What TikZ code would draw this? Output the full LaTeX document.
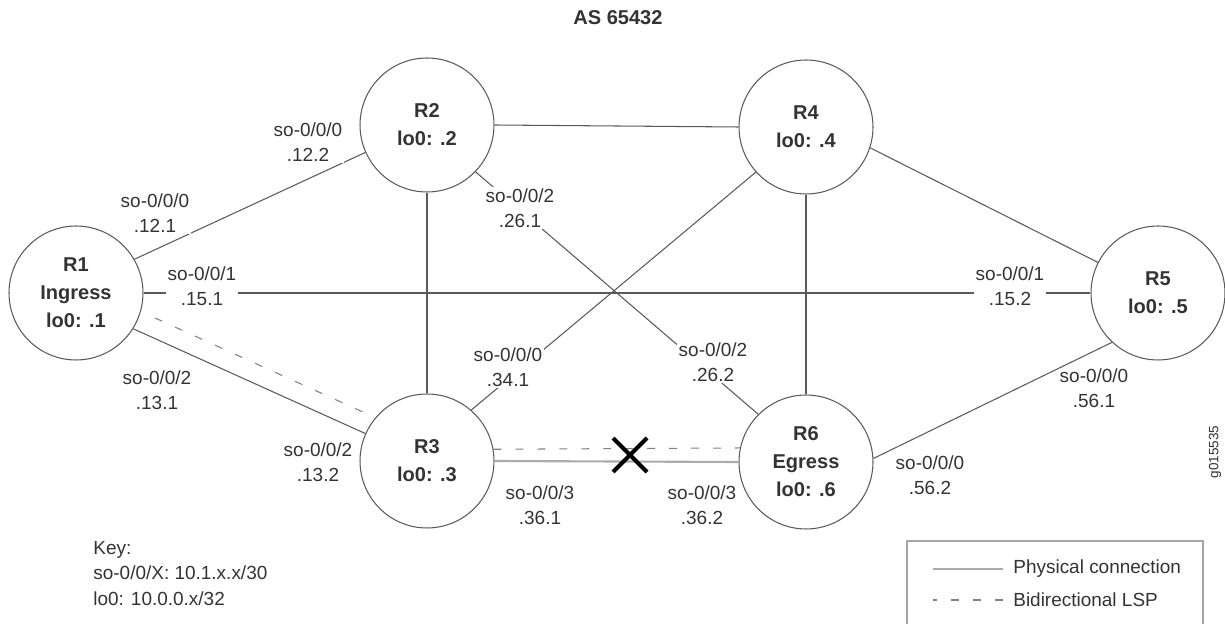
\documentclass[tikz,border=0pt]{standalone}
\usepackage{fontspec}
\setmainfont{Liberation Sans}
\usepackage{xcolor}
\usetikzlibrary{positioning}
\definecolor{linegray}{HTML}{5A5A5A}
\definecolor{textgray}{HTML}{333333}
\definecolor{lightline}{HTML}{ABABAB}
\tikzset{
  router/.style={
    circle,
    draw=linegray,
    line width=0.6pt,
    minimum size=2.68cm,
    inner sep=0pt,
    align=center,
    text=textgray,
    font=\fontsize{11.4}{15.9}\selectfont\bfseries,
  },
  iflabel/.style={
    fill=white,
    inner sep=1pt,
    align=center,
    text=textgray,
    font=\fontsize{10.8}{14.2}\selectfont,
  },
  plaintext/.style={
    inner sep=0pt,
    text=textgray,
    font=\fontsize{10.8}{14.5}\selectfont,
  },
  link/.style={
    draw=linegray,
    line width=0.6pt
  },
  physlink/.style={
    draw=lightline,
    line width=1.2pt
  },
  lsp/.style={
    draw=gray,
    line width=0.6pt,
    dash pattern=on 4.5pt off 8pt
  },
  cutmark/.style={
    draw=black,
    line width=2.4pt
  }
}

\begin{document}
\begin{tikzpicture}[x=0.02cm, y=-0.02cm]
  \useasboundingbox (0,0) rectangle (1225,624);

  % Title
  \node [text=textgray, font=\fontsize{11.4}{14}\selectfont\bfseries] (title) at (618,18) {AS 65432};

  % Routers
  \node [router] (r1) at (76,293)   {R1\\ Ingress\\ lo0: .1};
  \node [router] (r2) at (427,125)  {R2\\ lo0: .2};
  \node [router] (r4) at (806,127)  {R4\\ lo0: .4};
  \node [router] (r5) at (1158,293) {R5\\ lo0: .5};
  \node [router] (r3) at (427,461)  {R3\\ lo0: .3};
  \node [router] (r6) at (806,462)  {R6\\ Egress\\ lo0: .6};

  % Physical links
  \draw [link] (r1.30)  -- (r2.204);
  \draw [link] (r1.east) -- (r5.west);
  \draw [link] (r1.-32) -- (r3.156);
  \draw [link] (r2.east) -- (r4.west);
  \draw [link] (r2.south) -- (r3.north);
  \draw [link] (r2.-44) -- (r6.135);
  \draw [link] (r3.49)  -- (r4.222);
  \draw [link] (r4.south) -- (r6.north);
  \draw [link] (r4.-18) -- (r5.153);
  \draw [link] (r6.3)   -- (r5.227);
  \draw [physlink] (r3.east) -- (r6.west);

  % LSP
  \coordinate (lspstart) at (155,318);
  \draw [lsp] (lspstart) -- (r3.140);
  \draw [lsp] (r3.10) -- (r6.168);

  % Failed link
  \coordinate (cut) at (630,455);
  \draw [cutmark] ([shift={(-17,-17)}]cut) -- ([shift={(17,17)}]cut);
  \draw [cutmark] ([shift={(-17,17)}]cut) -- ([shift={(17,-17)}]cut);

  % Interface labels
  \node [iflabel] (if12a) at (155,213)  {so-0/0/0\\ .12.1};
  \node [iflabel] (if12b) at (308,142)  {so-0/0/0\\ .12.2};
  \node [iflabel] (if15a) at (202,286)  {so-0/0/1\\ .15.1};
  \node [iflabel] (if15b) at (1010,286) {so-0/0/1\\ .15.2};
  \node [iflabel] (if13a) at (157,390)  {so-0/0/2\\ .13.1};
  \node [iflabel] (if13b) at (318,462)  {so-0/0/2\\ .13.2};
  \node [iflabel] (if26a) at (520,208)  {so-0/0/2\\ .26.1};
  \node [iflabel] (if26b) at (713,362)  {so-0/0/2\\ .26.2};
  \node [iflabel] (if34a) at (508,367)  {so-0/0/0\\ .34.1};
  \node [iflabel] (if36a) at (540,505)  {so-0/0/3\\ .36.1};
  \node [iflabel] (if36b) at (702,505)  {so-0/0/3\\ .36.2};
  \node [iflabel, fill=none] (if56a) at (1094,388) {so-0/0/0\\ .56.1};
  \node [iflabel] (if56b) at (930,475)  {so-0/0/0\\ .56.2};

  % Key
  \node [plaintext, anchor=north west, align=left] (key) at (93,541)
        {Key:\\ so-0/0/X: 10.1.x.x/30\\ lo0: 10.0.0.x/32};

  % Legend
  \draw [draw=gray!70, line width=0.6pt] (907,541) rectangle (1203,650);
  \node [plaintext, anchor=west] (physkey) at (1013,569) {Physical connection};
  \node [plaintext, anchor=west] (lspkey)  at (1013,600) {Bidirectional LSP};
  \draw [physlink] ([xshift=-0.2cm]physkey.west) -- ++(-70,0);
  \draw [lsp]      ([xshift=-0.2cm]lspkey.west)  -- ++(-70,0);

  % Figure id
  \node [rotate=90, text=textgray, font=\fontsize{7.7}{9}\selectfont] (figid) at (1215,452) {g015535};
\end{tikzpicture}
\end{document}
